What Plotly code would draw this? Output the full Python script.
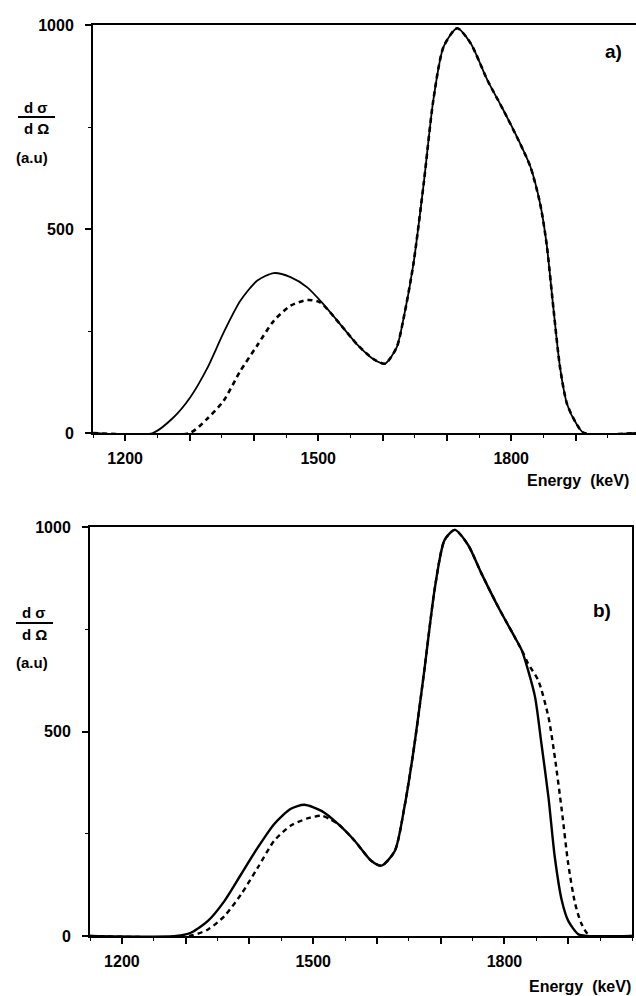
import plotly.graph_objects as go

# ---- Data ----
# Panel a)
a_solid_E = [1150, 1243, 1275, 1301, 1327, 1353, 1379, 1405, 1431, 1457, 1483, 1508, 1534, 1560,
             1586, 1604, 1622, 1633, 1648, 1664, 1679, 1695, 1716, 1737, 1763, 1788, 1814, 1830,
             1845, 1855, 1866, 1876, 1887, 1902, 1913, 1994]
a_solid_V = [0, 0, 38, 87, 157, 246, 324, 373, 392, 382, 357, 316, 267, 218,
             181, 170, 210, 283, 414, 611, 816, 947, 992, 955, 865, 791, 709, 652,
             562, 464, 300, 160, 70, 21, 0, 0]
a_dash_E = [1150, 1300, 1327, 1353, 1379, 1405, 1431, 1457, 1483, 1503, 1534, 1560,
            1586, 1604, 1622, 1633, 1648, 1664, 1679, 1695, 1716, 1737, 1763, 1788, 1814, 1830,
            1845, 1855, 1866, 1876, 1887, 1902, 1913, 1994]
a_dash_V = [0, 0, 34, 79, 152, 214, 275, 312, 326, 320, 267, 218,
            181, 170, 210, 283, 414, 611, 816, 947, 992, 955, 865, 791, 709, 652,
            562, 464, 300, 160, 70, 21, 0, 0]

# Panel b)
b_solid_E = [1150, 1285, 1308, 1335, 1361, 1387, 1413, 1439, 1465, 1486, 1513, 1539, 1565, 1591,
             1607, 1628, 1643, 1659, 1675, 1691, 1706, 1722, 1743, 1764, 1790, 1816, 1827, 1837,
             1848, 1858, 1869, 1879, 1890, 1900, 1916, 1930, 2000]
b_solid_V = [0, 0, 8, 37, 86, 151, 216, 274, 311, 321, 306, 274, 233, 184,
             172, 208, 314, 470, 658, 853, 968, 993, 956, 886, 805, 731, 699, 650,
             584, 470, 339, 192, 86, 37, 4, 0, 0]
b_dash_E = [1150, 1305, 1335, 1361, 1387, 1413, 1439, 1465, 1492, 1513, 1526, 1539, 1565, 1591,
            1607, 1628, 1643, 1659, 1675, 1691, 1706, 1722, 1743, 1764, 1790, 1816, 1830, 1837,
            1853, 1869, 1879, 1890, 1900, 1911, 1921, 1934, 2000]
b_dash_V = [0, 0, 16, 49, 102, 167, 233, 270, 288, 294, 286, 274, 233, 184,
            172, 208, 314, 470, 658, 853, 968, 993, 956, 886, 805, 731, 690, 666,
            625, 535, 437, 306, 176, 78, 29, 0, 0]

x_tickvals = [1200, 1300, 1400, 1500, 1600, 1700, 1800, 1900]
x_ticktext = ["1200", "", "", "1500", "", "", "1800", ""]
y_tickvals = [0, 500, 1000]
y_ticktext = ["0", "500", "1000"]

W, H = 636, 996
FONT = "Liberation Sans"

fig = go.Figure()

solid_a = dict(color="black", width=1.8, shape="spline", smoothing=0.7)
dash_a = dict(color="black", width=2.6, dash="5px,4px", shape="spline", smoothing=0.7)
solid_b = dict(color="black", width=2.4, shape="spline", smoothing=0.7)
dash_b = dict(color="black", width=2.4, dash="5px,4px", shape="spline", smoothing=0.7)

fig.add_trace(go.Scatter(x=a_solid_E, y=a_solid_V, mode="lines", line=solid_a, xaxis="x", yaxis="y", showlegend=False))
fig.add_trace(go.Scatter(x=a_dash_E, y=a_dash_V, mode="lines", line=dash_a, xaxis="x", yaxis="y", showlegend=False))
fig.add_trace(go.Scatter(x=b_solid_E, y=b_solid_V, mode="lines", line=solid_b, xaxis="x2", yaxis="y2", showlegend=False))
fig.add_trace(go.Scatter(x=b_dash_E, y=b_dash_V, mode="lines", line=dash_b, xaxis="x2", yaxis="y2", showlegend=False))

tickfont = dict(family=FONT, size=16, color="black", weight="bold")

def xax(domain, rng, anchor, mirror):
    return dict(domain=domain, range=rng, anchor=anchor, showgrid=False, zeroline=False,
                showline=True, linecolor="black", linewidth=2, mirror=mirror,
                ticks="outside", ticklen=6, tickwidth=1.5, tickcolor="black",
                tickvals=x_tickvals, ticktext=x_ticktext, tickfont=tickfont,
                ticklabelstandoff=4, automargin=False,
                minor=dict(dtick=50, tick0=1150, ticks="outside", ticklen=3, tickwidth=1, tickcolor="black"))

def yax(domain, anchor, mirror):
    return dict(domain=domain, range=[0, 1000], anchor=anchor, showgrid=False, zeroline=False,
                showline=True, linecolor="black", linewidth=2, mirror=mirror,
                ticks="outside", ticklen=6, tickwidth=1.5, tickcolor="black",
                tickvals=y_tickvals, ticktext=y_ticktext, tickfont=tickfont,
                ticklabelstandoff=8, automargin=False,
                minor=dict(tickvals=[250, 750], ticks="outside", ticklen=3, tickwidth=1, tickcolor="black"))

fig.update_layout(
    width=W, height=H,
    margin=dict(l=0, r=0, t=0, b=0),
    paper_bgcolor="white", plot_bgcolor="white",
    template="none",
    xaxis=xax([93 / W, 1.0], [1150, 1994], "y", True),
    yaxis=yax([1 - 433 / H, 1 - 25 / H], "x", False),
    xaxis2=xax([90 / W, 632 / W], [1150, 2000], "y2", True),
    yaxis2=yax([1 - 936 / H, 1 - 527 / H], "x2", True),
)

def ann(x, y, text, size=16, xanchor="center"):
    return dict(x=x / W, y=1 - y / H, xref="paper", yref="paper", text=text, showarrow=False,
                xanchor=xanchor, yanchor="middle", font=dict(family=FONT, size=size, color="black", weight="bold"))

annotations = [
    ann(36, 107, "d σ", 15), ann(36, 128, "d Ω", 15), ann(32, 158, "(a.u)", 15),
    ann(34, 612, "d σ", 15), ann(34, 634, "d Ω", 15), ann(32, 662, "(a.u)", 15),
    ann(613, 52, "a)", 19), ann(602, 610, "b)", 19),
    ann(631, 480, "Energy  (keV)", 16, "right"),
    ann(633, 986, "Energy  (keV)", 16, "right"),
]
fig.update_layout(annotations=annotations)

shapes = [
    dict(type="line", xref="paper", yref="paper", x0=18 / W, x1=55 / W, y0=1 - 117 / H, y1=1 - 117 / H,
         line=dict(color="black", width=2)),
    dict(type="line", xref="paper", yref="paper", x0=16 / W, x1=53 / W, y0=1 - 623 / H, y1=1 - 623 / H,
         line=dict(color="black", width=2)),
]
fig.update_layout(shapes=shapes)

fig.write_html(
    "out.html",
    config={"displayModeBar": False},
    post_script="document.body.style.margin='0';document.body.style.overflow='hidden';",
)
